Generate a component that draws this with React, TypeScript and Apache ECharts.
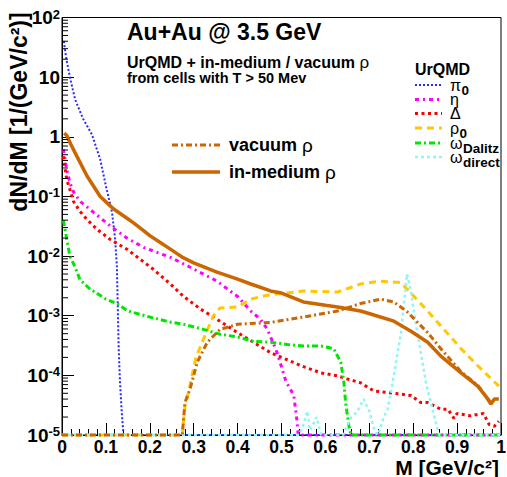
import React, { useEffect, useRef } from "react";
import * as echarts from "echarts";

const FONT = '"Liberation Sans", Arial, Helvetica, sans-serif';

// ---- data: [M (GeV/c^2), dN/dM] ----
const pi0: [number, number][] = [
  [0.004, 40], [0.01, 20], [0.018, 10], [0.03, 4.2], [0.048, 2.0], [0.068, 1.1],
  [0.087, 0.42], [0.1, 0.15], [0.114, 0.054], [0.121, 0.019], [0.125, 0.0068],
  [0.127, 1.5e-3], [0.129, 3e-4], [0.132, 8e-5], [0.136, 2.5e-5], [0.14, 1e-5], [1.0, 1e-5],
];
const eta: [number, number][] = [
  [0.003, 0.62], [0.011, 0.28], [0.018, 0.17], [0.026, 0.12], [0.041, 0.083], [0.072, 0.054],
  [0.11, 0.032], [0.148, 0.02], [0.186, 0.014], [0.224, 0.011], [0.247, 0.0095], [0.292, 0.0065],
  [0.353, 0.0038], [0.4, 0.0021], [0.43, 0.0012], [0.452, 8.7e-4], [0.468, 5.9e-4], [0.49, 2.4e-4],
  [0.51, 8e-5], [0.528, 4.6e-5], [0.535, 1.8e-5], [0.538, 1e-5], [1.0, 1e-5],
];
const delta: [number, number][] = [
  [0.003, 0.47], [0.011, 0.19], [0.018, 0.13], [0.026, 0.083], [0.041, 0.056], [0.057, 0.041],
  [0.08, 0.028], [0.11, 0.019], [0.148, 0.013], [0.194, 0.0072], [0.208, 0.006], [0.247, 0.0034],
  [0.277, 0.0021], [0.315, 0.0013], [0.345, 9.5e-4], [0.4, 5.2e-4], [0.475, 2.4e-4], [0.55, 1.4e-4],
  [0.59, 1.1e-4], [0.628, 9.8e-5], [0.65, 8.7e-5], [0.68, 7.5e-5], [0.71, 5.5e-5], [0.765, 4.9e-5],
  [0.795, 4.6e-5], [0.817, 3.5e-5], [0.833, 3.5e-5], [0.863, 2.7e-5], [0.879, 2.7e-5], [0.893, 1.9e-5],
  [0.9, 2.3e-5], [0.93, 2.1e-5], [0.96, 2.3e-5], [0.973, 1.5e-5], [0.985, 1.4e-5], [0.995, 1.7e-5],
];
const rho0: [number, number][] = [
  [0, 1e-5], [0.274, 1e-5], [0.28, 3e-5], [0.29, 6e-5], [0.305, 2e-4], [0.322, 4e-4], [0.345, 1e-3],
  [0.36, 1.35e-3], [0.4, 1.4e-3], [0.43, 1.9e-3], [0.467, 2.2e-3], [0.55, 2.6e-3], [0.628, 2.5e-3],
  [0.68, 3.4e-3], [0.726, 3.8e-3], [0.772, 3.6e-3], [0.802, 2.1e-3], [0.833, 1.2e-3], [0.87, 5.9e-4],
  [0.909, 2.8e-4], [0.947, 1.45e-4], [0.995, 6.6e-5],
];
const omegaDalitz: [number, number][] = [
  [0.003, 0.04], [0.011, 0.019], [0.018, 0.01], [0.03, 0.0065], [0.041, 0.004], [0.064, 0.0028],
  [0.1, 0.0019], [0.128, 0.00155], [0.15, 0.0012], [0.2, 9.5e-4], [0.247, 7.8e-4], [0.276, 7.2e-4],
  [0.322, 5.9e-4], [0.36, 4.9e-4], [0.4, 4.4e-4], [0.436, 3.7e-4], [0.475, 3.6e-4], [0.513, 3.3e-4],
  [0.55, 3.1e-4], [0.59, 3.1e-4], [0.619, 2.8e-4], [0.635, 1.66e-4], [0.642, 7.8e-5], [0.646, 3.5e-5],
  [0.653, 1.5e-5], [0.658, 1e-5], [1.0, 1e-5],
];
const omegaDirect: [number, number][] = [
  [0, 1e-5], [0.54, 1e-5], [0.55, 1.5e-5], [0.559, 2.5e-5], [0.565, 1.2e-5], [0.58, 2e-5], [0.59, 1e-5],
  [0.64, 1e-5], [0.657, 1.9e-5], [0.673, 2.5e-5], [0.687, 4e-5], [0.7, 2.5e-5], [0.712, 1.2e-5],
  [0.72, 1e-5], [0.733, 2e-5], [0.742, 2.7e-5], [0.756, 1e-4], [0.772, 5e-4], [0.786, 5e-3],
  [0.795, 2.5e-3], [0.805, 8e-4], [0.815, 3e-4], [0.83, 7e-5], [0.845, 2.5e-5], [0.856, 1.2e-5],
  [0.86, 1e-5], [1.0, 1e-5],
];
const vacuumRho: [number, number][] = [
  [0, 1e-5], [0.274, 1e-5], [0.28, 3.5e-5], [0.292, 6e-5], [0.308, 1.66e-4], [0.331, 3.6e-4],
  [0.36, 5.9e-4], [0.4, 7.2e-4], [0.475, 7.7e-4], [0.55, 9.5e-4], [0.628, 1.2e-3], [0.68, 1.6e-3],
  [0.703, 1.74e-3], [0.726, 1.9e-3], [0.756, 1.7e-3], [0.787, 1.15e-3], [0.833, 5.2e-4],
  [0.863, 2.8e-4], [0.909, 1.15e-4], [0.947, 6.8e-5], [0.977, 3.5e-5], [0.99, 4e-5],
];
const inMediumRho: [number, number][] = [
  [0.005, 1.15], [0.011, 1.05], [0.02, 0.75], [0.034, 0.47], [0.057, 0.22], [0.087, 0.1],
  [0.105, 0.075], [0.117, 0.062], [0.148, 0.043], [0.163, 0.036], [0.185, 0.027], [0.2, 0.022],
  [0.223, 0.017], [0.246, 0.0132], [0.262, 0.011], [0.276, 0.0094], [0.3, 0.0077], [0.353, 0.0054],
  [0.4, 0.0041], [0.43, 0.0034], [0.475, 0.0026], [0.5, 0.0024], [0.55, 0.0017], [0.6, 0.0015],
  [0.628, 0.0014], [0.68, 0.0012], [0.703, 0.00107], [0.756, 0.00081], [0.795, 0.00055],
  [0.833, 0.00036], [0.863, 0.00021], [0.909, 1.1e-4], [0.947, 6.6e-5], [0.965, 4.5e-5],
  [0.977, 3.3e-5], [0.985, 4e-5], [0.995, 4e-5],
];

const xTicks = [0, 0.1, 0.2, 0.3, 0.4, 0.5, 0.6, 0.7, 0.8, 0.9, 1];
const yMinorTicks: number[] = [];
for (let k = -5; k < 2; k++) for (let m = 2; m <= 9; m++) yMinorTicks.push(m * Math.pow(10, k));

type Def = { name: string; greek: string; sub: string; data: [number, number][]; color: string; width: number; dash: number[] | "solid" };

const urqmdDefs: Def[] = [
  { name: "pi0", greek: "π", sub: "0", data: pi0, color: "#2a2aff", width: 2, dash: [2, 2] },
  { name: "eta", greek: "η", sub: "", data: eta, color: "#ff00ff", width: 3, dash: [4, 4, 2, 4] },
  { name: "Delta", greek: "Δ", sub: "", data: delta, color: "#ff0000", width: 3, dash: [3, 3.5] },
  { name: "rho0", greek: "ρ", sub: "0", data: rho0, color: "#ffc800", width: 3, dash: [7, 5] },
  { name: "omegaDalitz", greek: "ω", sub: "Dalitz", data: omegaDalitz, color: "#00e600", width: 3, dash: [6, 3, 2, 3] },
  { name: "omegaDirect", greek: "ω", sub: "direct", data: omegaDirect, color: "#8ff5f5", width: 2.5, dash: [3, 3] },
];
const rhoDefs = [
  { name: "vacuum", label: "{t|vacuum }{g|ρ}", data: vacuumRho, color: "#cc6600", width: 3, dash: [6, 3, 2, 3] as number[] | "solid" },
  { name: "inmedium", label: "{t|in-medium }{g|ρ}", data: inMediumRho, color: "#cc6600", width: 3.5, dash: "solid" as number[] | "solid" },
];

function textWidth(text: string, font: string): number {
  const c = document.createElement("canvas").getContext("2d");
  if (!c) return text.length * 9;
  c.font = font;
  return c.measureText(text).width;
}

export default function App() {
  const ref = useRef<HTMLDivElement>(null);
  useEffect(() => {
    if (!ref.current) return;
    const chart = echarts.init(ref.current, undefined, { renderer: "svg" });
    const allDefs = [...urqmdDefs, ...rhoDefs];
    const lineSeries = allDefs.map((d) => ({
      name: d.name,
      type: "line",
      data: d.data,
      symbol: "none",
      showSymbol: false,
      clip: false,
      silent: true,
      lineStyle: { color: d.color, width: d.width, type: d.dash },
      z: 3,
    }));
    const minorTickSeries = {
      type: "custom",
      silent: true,
      clip: false,
      data: yMinorTicks.map((v) => [0, v]),
      renderItem: (_p: any, api: any) => {
        const p = api.coord([0, api.value(1)]);
        return {
          type: "line",
          shape: { x1: p[0], y1: p[1], x2: p[0] + 6, y2: p[1] },
          style: { stroke: "#000", lineWidth: 1 },
        };
      },
      z: 5,
    };

    const graphics: any[] = [];
    const txt = (x: number, y: number, text: string, size: number, extra: any = {}) => ({
      type: "text",
      x,
      y,
      style: {
        text,
        fill: "#000",
        fontFamily: FONT,
        fontWeight: "bold",
        fontSize: size,
        textVerticalAlign: "middle",
        ...extra,
      },
    });
    graphics.push(txt(127, 32, "Au+Au @ 3.5 GeV", 23));
    graphics.push(
      txt(127, 62.5, "{t|UrQMD + in-medium / vacuum }{g|ρ}", 16, {
        rich: {
          t: { fontFamily: FONT, fontWeight: "bold", fontSize: 16 },
          g: { fontFamily: FONT, fontWeight: "normal", fontSize: 17 },
        },
      })
    );
    graphics.push(txt(127, 78, "from cells with T > 50 Mev", 14.5));
    graphics.push(txt(415, 69, "UrQMD", 16));

    const GREEK_SIZE = 16;
    const SUB_SIZE = 13.5;
    const legY = [85, 99.5, 113.5, 128, 143, 157];
    urqmdDefs.forEach((d, i) => {
      const y = legY[i];
      graphics.push({
        type: "line",
        shape: { x1: 415, y1: y, x2: 442, y2: y },
        style: { stroke: d.color, lineWidth: d.width, lineDash: d.dash === "solid" ? null : d.dash },
      });
      graphics.push(txt(450, y, d.greek, GREEK_SIZE, { fontWeight: "normal", lineHeight: 12 }));
      if (d.sub) {
        const w = textWidth(d.greek, `normal ${GREEK_SIZE}px ${FONT}`);
        graphics.push(txt(450 + w + 0.5, y + 5, d.sub, SUB_SIZE, { lineHeight: 10 }));
      }
    });

    const rhoRich = {
      t: { fontFamily: FONT, fontWeight: "bold", fontSize: 18 },
      g: { fontFamily: FONT, fontWeight: "normal", fontSize: 19 },
    };
    const rhoY = [145, 172];
    rhoDefs.forEach((d, i) => {
      graphics.push({
        type: "line",
        shape: { x1: 172, y1: rhoY[i], x2: 220, y2: rhoY[i] },
        style: { stroke: d.color, lineWidth: d.width, lineDash: d.dash === "solid" ? null : d.dash },
      });
      graphics.push(txt(229, rhoY[i], d.label, 18, { rich: rhoRich }));
    });

    graphics.push({
      type: "text",
      x: 19,
      y: 112,
      rotation: Math.PI / 2,
      style: {
        text: "dN/dM [1/(GeV/c²)]",
        fill: "#000",
        fontFamily: FONT,
        fontWeight: "bold",
        fontSize: 23,
        textAlign: "center",
        textVerticalAlign: "middle",
      },
    });
    graphics.push(txt(499, 467, "M [GeV/c²]", 21, { textAlign: "right" }));

    chart.setOption({
      animation: false,
      backgroundColor: "#fff",
      grid: {
        left: 62,
        right: 6,
        top: 17.5,
        bottom: 42,
        show: true,
        borderColor: "#000",
        borderWidth: 1,
        backgroundColor: "transparent",
        outerBoundsMode: "none",
      },
      xAxis: {
        type: "value",
        min: 0,
        max: 1,
        interval: 0.1,
        axisLine: { show: true, lineStyle: { color: "#000", width: 1 } },
        axisTick: { show: true, inside: true, length: 12, lineStyle: { color: "#000" } },
        minorTick: { show: true, splitNumber: 5, length: 6, lineStyle: { color: "#000" } },
        splitLine: { show: false },
        axisLabel: {
          margin: 3,
          showMinLabel: true,
          showMaxLabel: true,
          color: "#000",
          fontFamily: FONT,
          fontWeight: "bold",
          fontSize: 17.5,
          formatter: (v: number) => {
            const t = xTicks.find((x) => Math.abs(x - v) < 1e-6);
            return t === undefined ? "" : String(t);
          },
        },
      },
      yAxis: {
        type: "log",
        logBase: 10,
        min: 1e-5,
        max: 100,
        splitNumber: 7,
        axisLine: { show: true, lineStyle: { color: "#000", width: 1 } },
        axisTick: { show: true, inside: true, length: 12, lineStyle: { color: "#000" } },
        splitLine: { show: false },
        axisLabel: {
          margin: 2,
          showMinLabel: true,
          showMaxLabel: true,
          formatter: (v: number) => {
            const e = Math.round(Math.log10(v));
            if (e === 0) return "{b|1}";
            if (e === 1) return "{b|10}";
            return `{b|10}{s|${e}}`;
          },
          rich: {
            b: { fontFamily: FONT, fontWeight: "bold", fontSize: 19, lineHeight: 20, color: "#000" },
            s: { fontFamily: FONT, fontWeight: "bold", fontSize: 13, lineHeight: 12, verticalAlign: "top", color: "#000" },
          },
        },
      },
      series: [...lineSeries, minorTickSeries],
      graphic: graphics,
    });
    return () => chart.dispose();
  }, []);
  return <div ref={ref} style={{ position: "fixed", left: 0, top: 0, width: 507, height: 477 }} />;
}
